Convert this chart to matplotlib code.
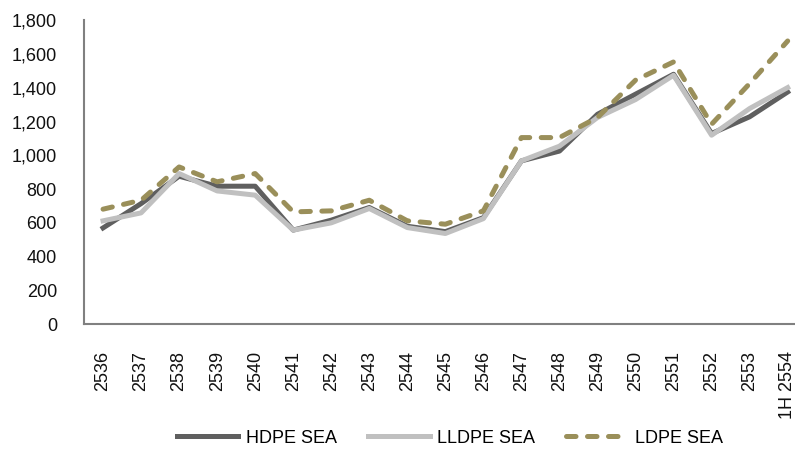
import matplotlib
matplotlib.use("Agg")
import matplotlib.pyplot as plt
from matplotlib.ticker import FuncFormatter

plt.rcParams["font.family"] = ["Liberation Sans", "DejaVu Sans"]

# 年份标签
years = ["2536", "2537", "2538", "2539", "2540", "2541", "2542", "2543", "2544",
         "2545", "2546", "2547", "2548", "2549", "2550", "2551", "2552", "2553",
         "1H 2554"]
hdpe = [570, 714, 876, 817, 817, 557, 616, 691, 580, 548, 631, 967, 1025,
        1243, 1362, 1480, 1129, 1228, 1375]
lldpe = [612, 659, 892, 789, 764, 557, 600, 685, 572, 537, 625, 967, 1054,
         1224, 1330, 1474, 1119, 1277, 1401]
ldpe = [681, 734, 931, 843, 892, 665, 671, 734, 612, 592, 671, 1105, 1105,
        1224, 1445, 1553, 1184, 1425, 1677]

fig = plt.figure(figsize=(7.95, 4.49), dpi=100)
ax = fig.add_axes([0.1057, 0.278, 0.909, 0.677])

x = list(range(len(years)))
lw = 3.6
ax.plot(x, hdpe, color="#5f5f5f", linewidth=lw, label="HDPE SEA")
ax.plot(x, lldpe, color="#c0c0c0", linewidth=lw, label="LLDPE SEA")
ax.plot(x, ldpe, color="#9a8f5a", linewidth=lw, linestyle=(0, (1.9, 2.3)),
        dash_capstyle="round", label="LDPE SEA")

ax.set_xlim(-0.5, 18.5)
ax.set_ylim(0, 1800)
ax.set_yticks(range(0, 1801, 200))
ax.yaxis.set_major_formatter(FuncFormatter(lambda v, p: f"{int(v):,}"))
ax.set_xticks(x)
ax.set_xticklabels(years, rotation=90)
ax.tick_params(axis="both", length=0, labelsize=13, colors="#111111", pad=19.5)

for s in ["top", "right"]:
    ax.spines[s].set_visible(False)
for s in ["left", "bottom"]:
    ax.spines[s].set_color("#808080")
    ax.spines[s].set_linewidth(1.5)

fig.legend(loc="center", bbox_to_anchor=(0.566, 0.024), ncol=3, frameon=False,
           fontsize=13, handlelength=3.4, handletextpad=0.4, columnspacing=1.75)

fig.savefig("out.png", dpi=100)
